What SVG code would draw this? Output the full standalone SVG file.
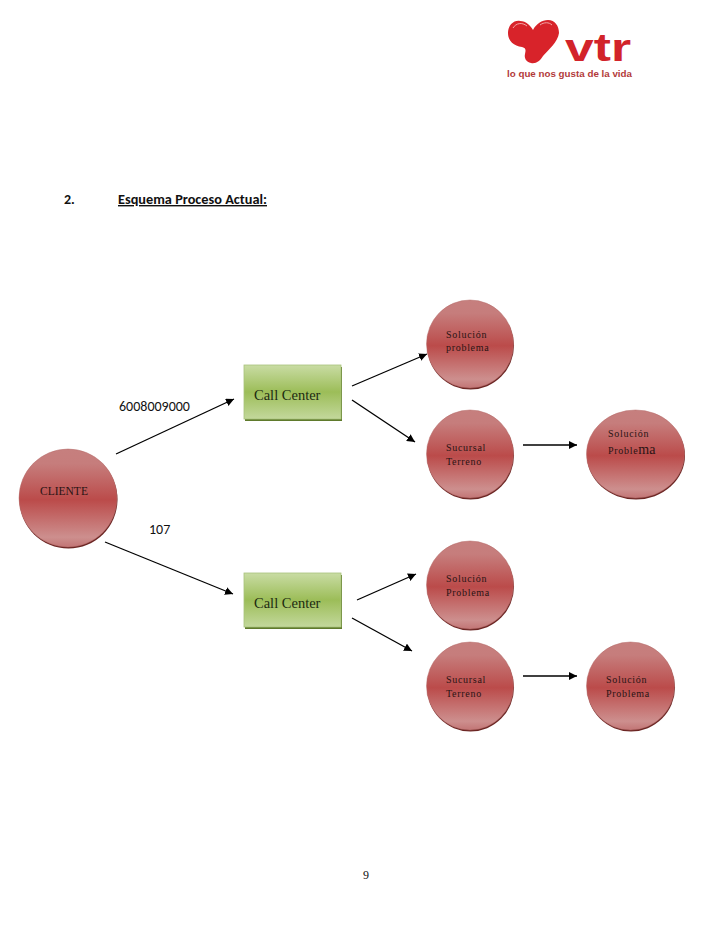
<svg xmlns="http://www.w3.org/2000/svg" width="728" height="942" viewBox="0 0 728 942">
<style>
.c{stroke:#b56a68;stroke-width:.5}
.s{fill:#6b2523}
.l{font:10px "Liberation Serif",serif;fill:#2a1414;letter-spacing:.7px}
.cc{font:14.5px "Liberation Serif",serif;fill:#1c2a10}
.b{font:14px Carlito,"Open Sans","Liberation Sans",sans-serif;fill:#111}
.h{font:bold 14px Carlito,"Open Sans","Liberation Sans",sans-serif;fill:#111}
.w{fill:url(#g);stroke:#a9c27c;stroke-width:.8}
.a{stroke:#000;stroke-width:1.3;fill:none;marker-end:url(#m)}
</style>
<defs>
<linearGradient id="r" x1="0" y1="0" x2="0" y2="1">
<stop offset="0" stop-color="#c67f7e"/><stop offset=".15" stop-color="#c67d7c"/><stop offset=".52" stop-color="#bb4b4a"/><stop offset=".9" stop-color="#cd8f8e"/><stop offset="1" stop-color="#c27575"/>
</linearGradient>
<linearGradient id="g" x1="0" y1="0" x2="0" y2="1">
<stop offset="0" stop-color="#c9dca4"/><stop offset=".5" stop-color="#9cbd58"/><stop offset="1" stop-color="#c3d89c"/>
</linearGradient>
<marker id="m" markerUnits="userSpaceOnUse" markerWidth="10" markerHeight="8" refX="8" refY="4" orient="auto">
<path d="M0 0L8 4L0 8Z" fill="#000"/>
</marker>
</defs>
<rect width="728" height="942" fill="#fff"/>
<g id="logo">
<path d="M508 33C508 25 514 20 520 21C526 21 531 26 533 30C536 24 542 20 548 20C555 20 559 26 559 33C558 42 548 50 543 56C540 61 536 64 531 63C526 62 524 58 525 54C526 50 526 48 522 47C514 46 508 41 508 33Z" fill="#d8232a"/>
<path d="M513 28C516 23 522 22 527 26M540 25C544 22 549 22 552 25" fill="none" stroke="#f2a6a6" stroke-width="1"/>
<text x="565" y="61" style="font:bold 38px 'Liberation Sans',sans-serif;fill:#d2232a" textLength="66" lengthAdjust="spacingAndGlyphs">vtr</text>
<text x="507" y="77" style="font:bold 8.500px 'Liberation Sans',sans-serif;fill:#b23a3a" textLength="125" lengthAdjust="spacingAndGlyphs">lo que nos gusta de la vida</text>
</g>
<g id="heading">
<text class="h" x="64" y="204">2.</text>
<text class="h" x="118" y="204" text-decoration="underline" textLength="149" lengthAdjust="spacingAndGlyphs">Esquema Proceso Actual:</text>
</g>
<g id="connectors">
<path class="a" d="M116 454L234 399"/>
<path class="a" d="M105 542L233 594"/>
<path class="a" d="M352 386L427 354"/>
<path class="a" d="M352 400L415 442"/>
<path class="a" d="M357 600L416 574"/>
<path class="a" d="M352 618L412 651"/>
<path class="a" d="M523 445L577 445"/>
<path class="a" d="M523 676L577 676"/>
</g>
<g id="label-6008009000"><text class="b" x="119" y="411">6008009000</text></g>
<g id="label-107"><text class="b" x="149" y="534">107</text></g>
<g id="cliente">
<circle class="s" cx="68.500" cy="499.500" r="49"/><circle class="c" fill="url(#r)" cx="68" cy="498" r="49"/>
<text x="40" y="495" style="font:11.500px 'Liberation Serif',serif;fill:#2a1414">CLIENTE</text>
</g>
<g id="callcenter1">
<rect x="245" y="367" width="97" height="54" fill="#5f7a2c"/><rect class="w" x="244" y="365" width="97" height="54"/>
<text class="cc" x="254" y="400">Call Center</text>
</g>
<g id="callcenter2">
<rect x="245" y="575" width="97" height="54" fill="#5f7a2c"/><rect class="w" x="244" y="573" width="97" height="54"/>
<text class="cc" x="254" y="608">Call Center</text>
</g>
<g id="solucion1">
<ellipse class="s" cx="470.500" cy="345.500" rx="43.500" ry="44"/><ellipse class="c" fill="url(#r)" cx="470" cy="344" rx="43.500" ry="44"/>
<text class="l" x="446" y="338">Solución</text><text class="l" x="446" y="351">problema</text>
</g>
<g id="sucursal1">
<ellipse class="s" cx="470.500" cy="455.500" rx="43.500" ry="44"/><ellipse class="c" fill="url(#r)" cx="470" cy="454" rx="43.500" ry="44"/>
<text class="l" x="446" y="451">Sucursal</text><text class="l" x="446" y="465">Terreno</text>
</g>
<g id="solucion2">
<ellipse class="s" cx="636" cy="455.500" rx="49" ry="44"/><ellipse class="c" fill="url(#r)" cx="635.500" cy="454" rx="49" ry="44"/>
<text class="l" x="608" y="437">Solución</text><text class="l" x="608" y="454">Proble<tspan style="font-size:14px;letter-spacing:0">ma</tspan></text>
</g>
<g id="solucion3">
<ellipse class="s" cx="470.500" cy="586.500" rx="43.500" ry="44"/><ellipse class="c" fill="url(#r)" cx="470" cy="585" rx="43.500" ry="44"/>
<text class="l" x="446" y="582">Solución</text><text class="l" x="446" y="596">Problema</text>
</g>
<g id="sucursal2">
<ellipse class="s" cx="470.500" cy="687.500" rx="43.500" ry="44"/><ellipse class="c" fill="url(#r)" cx="470" cy="686" rx="43.500" ry="44"/>
<text class="l" x="446" y="683">Sucursal</text><text class="l" x="446" y="697">Terreno</text>
</g>
<g id="solucion4">
<ellipse class="s" cx="631" cy="687.500" rx="44" ry="44"/><ellipse class="c" fill="url(#r)" cx="630.500" cy="686" rx="44" ry="44"/>
<text class="l" x="606" y="683">Solución</text><text class="l" x="606" y="697">Problema</text>
</g>
<g id="page-number"><text x="363" y="879" style="font:12px 'Liberation Serif',serif;fill:#111">9</text></g>
</svg>
